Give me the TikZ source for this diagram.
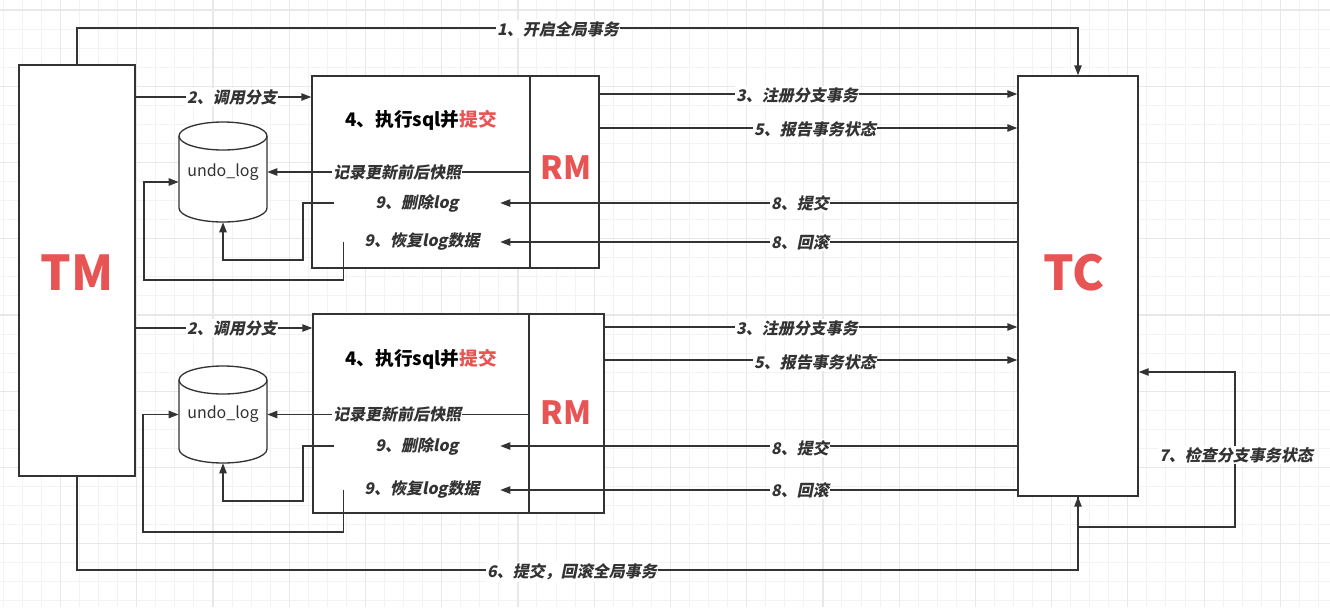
\documentclass[tikz,border=0pt]{standalone}
\usepackage{fontspec}
\usetikzlibrary{arrows.meta,fit,calc}
\newfontfamily\cjk{Noto Sans CJK SC}
\newfontfamily\cjksl{Noto Sans CJK SC}[FakeSlant=0.2]
\definecolor{linec}{HTML}{333333}
\definecolor{labc}{HTML}{333333}
\definecolor{redc}{HTML}{E85454}
\definecolor{gridminor}{HTML}{F3F3F3}
\definecolor{gridmajor}{HTML}{E8E8E8}
\tikzset{
  box/.style={draw=linec, line width=1pt, fill=white, inner sep=0pt},
  bigred/.style={font=\cjk\bfseries\fontsize{36pt}{40pt}\selectfont, text=redc, inner sep=0pt},
  rmred/.style={font=\cjk\bfseries\fontsize{24pt}{28pt}\selectfont, text=redc, inner sep=0pt},
  lab/.style={font=\cjksl\bfseries\fontsize{12pt}{14pt}\selectfont, text=labc, fill=white, inner sep=1pt},
  inlab/.style={font=\cjksl\bfseries\fontsize{12pt}{14pt}\selectfont, text=labc, inner sep=0pt, minimum height=14pt},
  title/.style={font=\cjk\bfseries\fontsize{14pt}{16pt}\selectfont, text=black, inner sep=0pt},
  dbtext/.style={font=\cjk\fontsize{12pt}{14pt}\selectfont, text=labc, inner sep=0pt},
  arr/.style={draw=linec, line width=1pt, -{Triangle[length=7.5pt,width=5.5pt]}},
  ln/.style={draw=linec, line width=1pt},
}
\begin{document}
\begin{tikzpicture}[x=0.75pt,y=-0.75pt]
\useasboundingbox (0,0) rectangle (1330,607);
\fill[white] (0,0) rectangle (1330,607);
% grid
\foreach \i in {0,...,70} {
  \pgfmathsetmacro\xx{3.3+19.06*\i}
  \draw[gridminor, line width=0.75pt] (\xx,0) -- (\xx,607);
}
\foreach \i in {-1,...,32} {
  \pgfmathsetmacro\yy{10+19.06*\i}
  \draw[gridminor, line width=0.75pt] (0,\yy) -- (1330,\yy);
}
\foreach \i in {0,...,17} {
  \pgfmathsetmacro\xx{60.5+76.24*\i}
  \draw[gridmajor, line width=0.9pt] (\xx,0) -- (\xx,607);
}
\foreach \i in {0,...,7} {
  \pgfmathsetmacro\yy{10+76.24*\i}
  \draw[gridmajor, line width=0.9pt] (0,\yy) -- (1330,\yy);
}

% main boxes
\node[box, fit={(19,65) (135,476)}] (TM) {};
\node[box, fit={(1018,76) (1138,496)}] (TC) {};
\node[bigred] (tmt) at (77,272.5) {TM};
\node[bigred] (tct) at (1074,272.5) {TC};

% upper RM group
\node[box, fit={(312,76) (530,268)}] (L1) {};
\node[box, fit={(530,76) (599,268)}] (RM1) {};
\node[rmred] (rm1t) at (566,168) {RM};
\node[title] (t1) at (421,120) {4、执行sql并\textcolor{redc}{提交}};
\node[dbtext, minimum width=66pt, minimum height=75pt] (u1) at (223,172) {};
\node[inlab, minimum width=124.5pt] (d1) at (417,203) {9、删除log};
\node[inlab, minimum width=117pt] (r1) at (422,242) {9、恢复log数据};

% lower RM group
\node[box, fit={(313,314) (529,513)}] (L2) {};
\node[box, fit={(529,314) (604,513)}] (RM2) {};
\node[rmred] (rm2t) at (566,413) {RM};
\node[title] (t2) at (421,359) {4、执行sql并\textcolor{redc}{提交}};
\node[dbtext, minimum width=66pt, minimum height=72.75pt] (u2) at (223,414.5) {};
\node[inlab, minimum width=124.5pt] (d2) at (417,446) {9、删除log};
\node[inlab, minimum width=117pt] (r2) at (422,490) {9、恢复log数据};

% cylinders
\draw[ln, fill=white] (179,136) -- (179,208) arc[start angle=180, end angle=0, x radius=44, y radius=14] -- (267,136);
\draw[ln, fill=white] (223,136) ellipse [x radius=44, y radius=14];
\draw[ln, fill=white] (179,380) -- (179,449) arc[start angle=180, end angle=0, x radius=44, y radius=14] -- (267,380);
\draw[ln, fill=white] (223,380) ellipse [x radius=44, y radius=14];
\node[dbtext] (u1t) at (223,172) {undo\_log};
\node[dbtext] (u2t) at (223,414) {undo\_log};

% global connectors
\draw[arr] (TM.north) -- (TM.north |- 0,28) -| (TC.north);
\draw[arr] (TM.south) -- (TM.south |- 0,570) -| (TC.south);
\draw[arr] (TC.south) -- (TC.south |- 0,527) -- (1235,527) -- (1235,372) -- (TC.east |- 0,372);

% upper connectors
\draw[arr] (TM.east |- 0,97) -- (L1.west |- 0,97);
\draw[arr] (RM1.east |- 0,94) -- (TC.west |- 0,94);
\draw[arr] (RM1.east |- 0,128) -- (TC.west |- 0,128);
\draw[arr] (RM1.west |- 0,172) -- (u1.east);
\draw[arr] (TC.west |- 0,203) -- (d1.east);
\draw[arr] (TC.west |- 0,242) -- (r1.east);
\draw[arr] (d1.west) -- (303,203) -- (303,260) -| (u1.south);
\draw[arr] (r1.west) -- (r1.west |- 0,280) -- (144,280) |- (u1.west |- 0,182);

% lower connectors
\draw[arr] (TM.east |- 0,328) -- (L2.west |- 0,328);
\draw[arr] (RM2.east |- 0,327) -- (TC.west |- 0,327);
\draw[arr] (RM2.east |- 0,360) -- (TC.west |- 0,360);
\draw[arr] (RM2.west |- 0,414.5) -- (u2.east);
\draw[arr] (TC.west |- 0,446) -- (d2.east);
\draw[arr] (TC.west |- 0,490) -- (r2.east);
\draw[arr] (d2.west) -- (303,446) -- (303,501) -| (u2.south);
\draw[arr] (r2.west) -- (r2.west |- 0,532) -- (143,532) |- (u2.west |- 0,414.5);

% labels
\node[lab] (l1) at (558,29) {1、开启全局事务};
\node[lab] (l6) at (572,572) {6、提交，回滚全局事务};
\node[lab] (l7) at (1236,455) {7、检查分支事务状态};
\node[lab] (l2a) at (232,97) {2、调用分支};
\node[lab] (l3a) at (797,95) {3、注册分支事务};
\node[lab] (l5a) at (815,129) {5、报告事务状态};
\node[lab] (lra) at (397,172) {记录更新前后快照};
\node[lab] (l8a) at (800,203) {8、提交};
\node[lab] (l8b) at (800,242) {8、回滚};
\node[lab] (l2b) at (232,328) {2、调用分支};
\node[lab] (l3b) at (797,328) {3、注册分支事务};
\node[lab] (l5b) at (815,362) {5、报告事务状态};
\node[lab] (lrb) at (397,414) {记录更新前后快照};
\node[lab] (l8c) at (800,448) {8、提交};
\node[lab] (l8d) at (800,490) {8、回滚};
\end{tikzpicture}
\end{document}
